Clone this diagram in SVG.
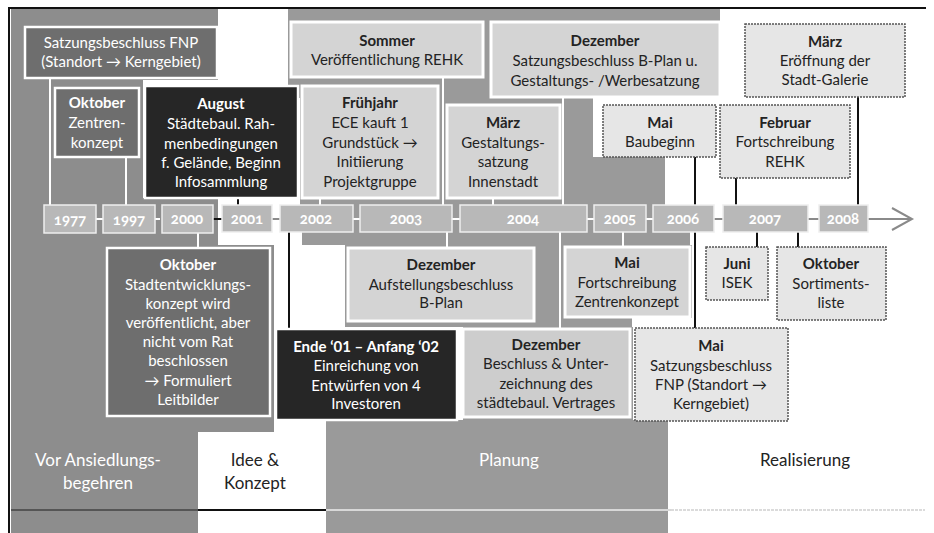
<svg xmlns="http://www.w3.org/2000/svg" width="934" height="533" viewBox="0 0 934 533">
<style>
.t{font-family:Lato,'DejaVu Sans',sans-serif;font-size:15px;text-anchor:middle}
.b{font-weight:bold}
.w{fill:#fff}
.k{fill:#232323}
.mid{fill:#6e6e6e;stroke:#fff;stroke-width:2.5}
.dark{fill:#262626;stroke:#fff;stroke-width:2.5}
.light{fill:#d4d4d4;stroke:#fff;stroke-width:3}
.real{fill:#e6e6e6;stroke:#555;stroke-width:1.5;stroke-dasharray:2 1}
.yr{fill:#b8b8b8;stroke:#eee;stroke-width:1.5}
.yt{font-family:Lato,'DejaVu Sans',sans-serif;font-size:15px;font-weight:bold;fill:#fff;text-anchor:middle;font-variant-numeric:oldstyle-nums}
.cw{stroke:#fff;stroke-width:2;fill:none}
.ck{stroke:#111;stroke-width:2;fill:none}
.cg{stroke:#8a8a8a;stroke-width:2;fill:none}
.ph{font-family:Lato,'DejaVu Sans',sans-serif;font-size:17px;text-anchor:middle}
.g1{fill:#8d8d8d}
.g2{fill:#9a9a9a}
</style>
<rect width="934" height="533" fill="#fff"/>
<g id="background">
<rect class="g1" x="11" y="9" width="207" height="71"/>
<rect class="g1" x="11" y="80" width="132" height="125"/>
<rect class="g1" x="11" y="198" width="207" height="47"/>
<rect class="g1" x="11" y="245" width="263" height="187"/>
<rect class="g1" x="11" y="432" width="187" height="101"/>
<rect class="g2" x="288" y="9" width="432" height="89"/>
<rect class="g2" x="300" y="98" width="293" height="107"/>
<rect class="g2" x="593" y="157" width="72" height="75"/>
<rect class="g2" x="302" y="205" width="363" height="40"/>
<rect class="g2" x="302" y="232" width="388" height="13"/>
<rect class="g2" x="345" y="245" width="347" height="73"/>
<rect class="g2" x="345" y="318" width="287" height="9"/>
<rect class="g2" x="463" y="327" width="170" height="93"/>
<rect class="g2" x="326" y="420" width="342" height="113"/>
</g>
<g id="frame">
<line x1="9" y1="8" x2="926" y2="8" stroke="#111" stroke-width="2"/>
<line x1="9" y1="7" x2="9" y2="533" stroke="#111" stroke-width="2"/>
<line x1="11" y1="510" x2="198" y2="510" stroke="#555" stroke-width="2"/>
<line x1="198" y1="510" x2="326" y2="510" stroke="#111" stroke-width="2"/>
<line x1="326" y1="510" x2="671" y2="510" stroke="#d8d8d8" stroke-width="2"/>
<line x1="671" y1="510" x2="925" y2="510" stroke="#d0d0d0" stroke-width="1.5" stroke-dasharray="3 1"/>
</g>
<g id="connectors">
<line class="cw" x1="44" y1="219" x2="160" y2="219"/>
<line class="ck" x1="213" y1="219" x2="222" y2="219"/>
<line class="cg" x1="272" y1="219" x2="280" y2="219"/>
<line class="cw" x1="353" y1="219" x2="653" y2="219"/>
<line class="cg" x1="714" y1="219" x2="723" y2="219"/>
<line class="cg" x1="808" y1="219" x2="819" y2="219"/>
<line class="cg" x1="868" y1="219" x2="911" y2="219"/>
<polyline class="cg" points="892,208 912,219 892,230"/>
<line class="cw" x1="50" y1="78" x2="50" y2="205"/>
<line class="cw" x1="126" y1="157" x2="126" y2="205"/>
<line class="ck" x1="238" y1="198" x2="238" y2="205"/>
<line class="cw" x1="443" y1="77" x2="443" y2="205"/>
<line class="cw" x1="320" y1="198" x2="320" y2="205"/>
<line class="cw" x1="493" y1="198" x2="493" y2="205"/>
<line class="cw" x1="563" y1="97" x2="563" y2="205"/>
<line class="ck" x1="695" y1="157" x2="695" y2="205"/>
<line class="ck" x1="736" y1="178" x2="736" y2="205"/>
<line class="ck" x1="858" y1="97" x2="858" y2="205"/>
<line class="cw" x1="198" y1="232" x2="198" y2="248"/>
<line class="ck" x1="289" y1="232" x2="289" y2="329"/>
<line class="cw" x1="447" y1="232" x2="447" y2="248"/>
<line class="cw" x1="560" y1="232" x2="560" y2="329"/>
<line class="cw" x1="623" y1="232" x2="623" y2="247"/>
<line class="ck" x1="695" y1="232" x2="695" y2="328"/>
<line class="ck" x1="757" y1="232" x2="757" y2="247"/>
<line class="ck" x1="798" y1="232" x2="798" y2="247"/>
</g>
<g id="years">
<g id="y1977"><rect class="yr" x="44" y="205" width="52" height="28"/><text class="yt" x="70" y="225">1977</text></g>
<g id="y1997"><rect class="yr" x="103" y="205" width="52" height="28"/><text class="yt" x="129" y="225">1997</text></g>
<g id="y2000"><rect class="yr" x="162" y="205" width="51" height="28"/><text class="yt" x="187" y="224">2000</text></g>
<g id="y2001"><rect class="yr" x="222" y="205" width="50" height="27"/><text class="yt" x="247" y="224">2001</text></g>
<g id="y2002"><rect class="yr" x="280" y="205" width="73" height="27"/><text class="yt" x="316" y="224">2002</text></g>
<g id="y2003"><rect class="yr" x="360" y="205" width="92" height="27"/><text class="yt" x="406" y="224">2003</text></g>
<g id="y2004"><rect class="yr" x="460" y="205" width="127" height="27"/><text class="yt" x="523" y="224">2004</text></g>
<g id="y2005"><rect class="yr" x="594" y="205" width="52" height="27"/><text class="yt" x="620" y="224">2005</text></g>
<g id="y2006"><rect class="yr" x="653" y="205" width="61" height="27"/><text class="yt" x="683" y="224">2006</text></g>
<g id="y2007"><rect class="yr" x="723" y="205" width="85" height="27"/><text class="yt" x="765" y="224">2007</text></g>
<g id="y2008"><rect class="yr" x="819" y="205" width="49" height="27"/><text class="yt" x="843" y="224">2008</text></g>
</g>
<g id="n1"><rect class="mid" x="25" y="27" width="192" height="51"/>
<text class="t w" x="121" y="48">Satzungsbeschluss FNP</text>
<text class="t w" x="121" y="67">(Standort → Kerngebiet)</text></g>
<g id="n2"><rect class="mid" x="55" y="88" width="84" height="69"/>
<text class="t w b" x="97" y="108">Oktober</text>
<text class="t w" x="97" y="128">Zentren-</text>
<text class="t w" x="97" y="148">konzept</text></g>
<g id="n3"><rect class="dark" x="145" y="86" width="153" height="112"/>
<text class="t w b" x="221" y="109">August</text>
<text class="t w" x="221" y="129">Städtebaul. Rah-</text>
<text class="t w" x="221" y="149">menbedingungen</text>
<text class="t w" x="221" y="168">f. Gelände, Beginn</text>
<text class="t w" x="221" y="187">Infosammlung</text></g>
<g id="n4"><rect class="light" x="291" y="22" width="192" height="55"/>
<text class="t k b" x="387" y="46">Sommer</text>
<text class="t k" x="387" y="65">Veröffentlichung REHK</text></g>
<g id="n5"><rect class="light" x="491" y="22" width="229" height="75"/>
<text class="t k b" x="605" y="46">Dezember</text>
<text class="t k" x="605" y="66">Satzungsbeschluss B-Plan u.</text>
<text class="t k" x="605" y="86">Gestaltungs- /Werbesatzung</text></g>
<g id="n6"><rect class="light" x="302" y="86" width="136" height="112"/>
<text class="t k b" x="370" y="108">Frühjahr</text>
<text class="t k" x="370" y="128">ECE kauft 1</text>
<text class="t k" x="370" y="148">Grundstück →</text>
<text class="t k" x="370" y="167">Initiierung</text>
<text class="t k" x="370" y="187">Projektgruppe</text></g>
<g id="n7"><rect class="light" x="447" y="105" width="113" height="93"/>
<text class="t k b" x="503" y="128">März</text>
<text class="t k" x="503" y="148">Gestaltungs-</text>
<text class="t k" x="503" y="167">satzung</text>
<text class="t k" x="503" y="187">Innenstadt</text></g>
<g id="n8"><rect class="real" x="603" y="105" width="113" height="52"/>
<text class="t k b" x="660" y="128">Mai</text>
<text class="t k" x="660" y="147">Baubeginn</text></g>
<g id="n9"><rect class="real" x="720" y="105" width="130" height="73"/>
<text class="t k b" x="785" y="128">Februar</text>
<text class="t k" x="785" y="147">Fortschreibung</text>
<text class="t k" x="785" y="167">REHK</text></g>
<g id="n10"><rect class="real" x="745" y="24" width="160" height="73"/>
<text class="t k b" x="825" y="47">März</text>
<text class="t k" x="825" y="66">Eröffnung der</text>
<text class="t k" x="825" y="85">Stadt-Galerie</text></g>
<g id="n11"><rect class="mid" x="107" y="248" width="163" height="168"/>
<text class="t w b" x="188" y="270">Oktober</text>
<text class="t w" x="188" y="290">Stadtentwicklungs-</text>
<text class="t w" x="188" y="309">konzept wird</text>
<text class="t w" x="188" y="328">veröffentlicht, aber</text>
<text class="t w" x="188" y="347">nicht vom Rat</text>
<text class="t w" x="188" y="366">beschlossen</text>
<text class="t w" x="188" y="386">→ Formuliert</text>
<text class="t w" x="188" y="405">Leitbilder</text></g>
<g id="n12"><rect class="dark" x="276" y="329" width="181" height="91"/>
<text class="t w b" x="366" y="352">Ende ‘01 – Anfang ‘02</text>
<text class="t w" x="366" y="371">Einreichung von</text>
<text class="t w" x="366" y="391">Entwürfen von 4</text>
<text class="t w" x="366" y="409">Investoren</text></g>
<g id="n13"><rect class="light" x="348" y="248" width="186" height="73"/>
<text class="t k b" x="441" y="270">Dezember</text>
<text class="t k" x="441" y="290">Aufstellungsbeschluss</text>
<text class="t k" x="441" y="308">B-Plan</text></g>
<g id="n14"><rect class="light" x="565" y="247" width="125" height="70"/>
<text class="t k b" x="627" y="268">Mai</text>
<text class="t k" x="627" y="288">Fortschreibung</text>
<text class="t k" x="627" y="307">Zentrenkonzept</text></g>
<g id="n15"><rect class="light" x="463" y="329" width="167" height="88" style="fill:#cdcdcd"/>
<text class="t k b" x="546" y="350">Dezember</text>
<text class="t k" x="546" y="369">Beschluss &amp; Unter-</text>
<text class="t k" x="546" y="389">zeichnung des</text>
<text class="t k" x="546" y="408">städtebaul. Vertrages</text></g>
<g id="n16"><rect class="real" x="635" y="328" width="153" height="93"/>
<text class="t k b" x="711" y="351">Mai</text>
<text class="t k" x="711" y="371">Satzungsbeschluss</text>
<text class="t k" x="711" y="390">FNP (Standort →</text>
<text class="t k" x="711" y="409">Kerngebiet)</text></g>
<g id="n17"><rect class="real" x="706" y="247" width="62" height="53"/>
<text class="t k b" x="737" y="269">Juni</text>
<text class="t k" x="737" y="288">ISEK</text></g>
<g id="n18"><rect class="real" x="777" y="247" width="109" height="73"/>
<text class="t k b" x="831" y="269">Oktober</text>
<text class="t k" x="831" y="289">Sortiments-</text>
<text class="t k" x="831" y="308">liste</text></g>
<g id="phases">
<text class="ph w" x="98" y="466">Vor Ansiedlungs-</text>
<text class="ph w" x="98" y="489">begehren</text>
<text class="ph k" x="255" y="466">Idee &amp;</text>
<text class="ph k" x="255" y="489">Konzept</text>
<text class="ph w" x="509" y="466">Planung</text>
<text class="ph k" x="805" y="466">Realisierung</text>
</g>
</svg>
